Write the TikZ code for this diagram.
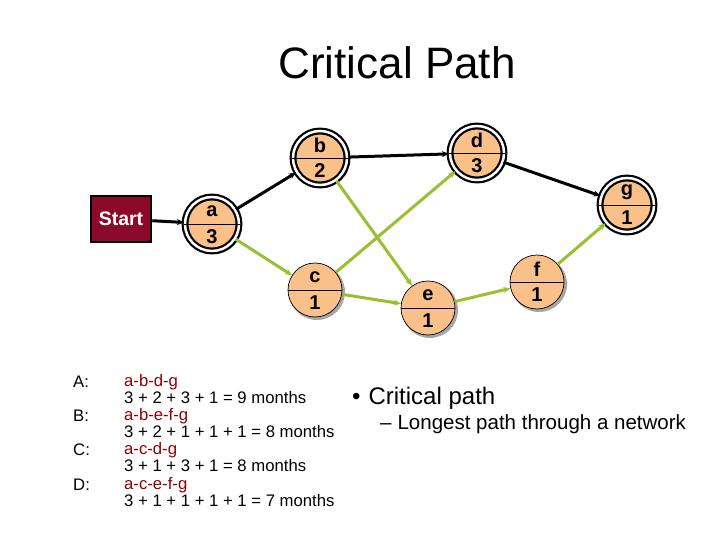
\documentclass[tikz,border=0pt]{standalone}
\usepackage{fontspec}
\setmainfont{Liberation Sans}
\usetikzlibrary{arrows.meta}
\definecolor{peach}{HTML}{F9C08A}
\definecolor{lgreen}{HTML}{99C031}
\definecolor{maroon}{HTML}{8B0A2A}
\definecolor{pathred}{HTML}{900000}
\begin{document}
\begin{tikzpicture}[x=1pt,y=-1pt,
  act/.style={circle,draw=black,fill=peach,minimum size=54pt,inner sep=0pt,line width=0.7pt},
  crit/.style={act,double=white,double distance=2.5pt,line width=2.2pt},
  cp/.style={line width=3pt,black,-{Stealth[length=7pt,width=6pt]}},
  nc/.style={line width=3pt,lgreen,-{Stealth[length=7pt,width=6pt]}},
  lab/.style={font=\fontsize{20}{20}\selectfont\bfseries},
  txt/.style={anchor=west,inner sep=0pt,font=\fontsize{16.7}{16.7}\selectfont}]
\useasboundingbox (0,0) rectangle (720,540);
\node[font=\fontsize{44}{44}\selectfont] (title) at (397,63) {Critical Path};
\node[draw=black,line width=2.5pt,fill=maroon,text=white,minimum width=60pt,minimum height=46pt,font=\fontsize{19.5}{19.5}\selectfont\bfseries] (start) at (121,219) {Start};
\foreach \n/\x/\y/\s/\st in {a/212/224/3/crit,b/320/158/2/crit,c/315/290/1/act,d/477/153/3/crit,g/627/205/1/crit,e/428/308/1/act,f/537/282/1/act}{
  \fill[gray!70] (\x+2,\y+2) circle (28);
  \node[\st] (\n) at (\x,\y) {};
  \draw[line width=0.7pt] (\n.west) -- (\n.east);
  \node[lab] (\n l) at (\x,\y-13) {\n};
  \node[lab] (\n d) at (\x,\y+13) {\s};
}
\draw[cp] (start) -- (a);
\draw[cp] (a) -- (b);
\draw[nc] (a) -- (c);
\draw[cp] (b) -- (d);
\draw[nc] (b) -- (e);
\draw[nc] (c) -- (d);
\draw[nc] (c) -- (e);
\draw[cp] (d) -- (g);
\draw[nc] (e) -- (f);
\draw[nc] (f) -- (g);
\node[txt] (A) at (73,382) {A:};
\node[txt] (B) at (73,416) {B:};
\node[txt] (C) at (73,450) {C:};
\node[txt] (D) at (73,485) {D:};
\node[txt,text=pathred] (p1) at (124,382) {a-b-d-g};
\node[txt] (s1) at (124,398) {3 + 2 + 3 + 1 = 9 months};
\node[txt,text=pathred] (p2) at (124,416) {a-b-e-f-g};
\node[txt] (s2) at (124,432) {3 + 2 + 1 + 1 + 1 = 8 months};
\node[txt,text=pathred] (p3) at (124,450) {a-c-d-g};
\node[txt] (s3) at (124,466) {3 + 1 + 3 + 1 = 8 months};
\node[txt,text=pathred] (p4) at (124,485) {a-c-e-f-g};
\node[txt] (s4) at (124,501) {3 + 1 + 1 + 1 + 1 = 7 months};
\node[txt,font=\fontsize{24}{24}\selectfont] (cpl) at (352,398) {•\hspace{8pt}Critical path};
\node[txt,font=\fontsize{20.5}{20.5}\selectfont] (lp) at (380,424) {–\hspace{6pt}Longest path through a network};
\end{tikzpicture}
\end{document}
